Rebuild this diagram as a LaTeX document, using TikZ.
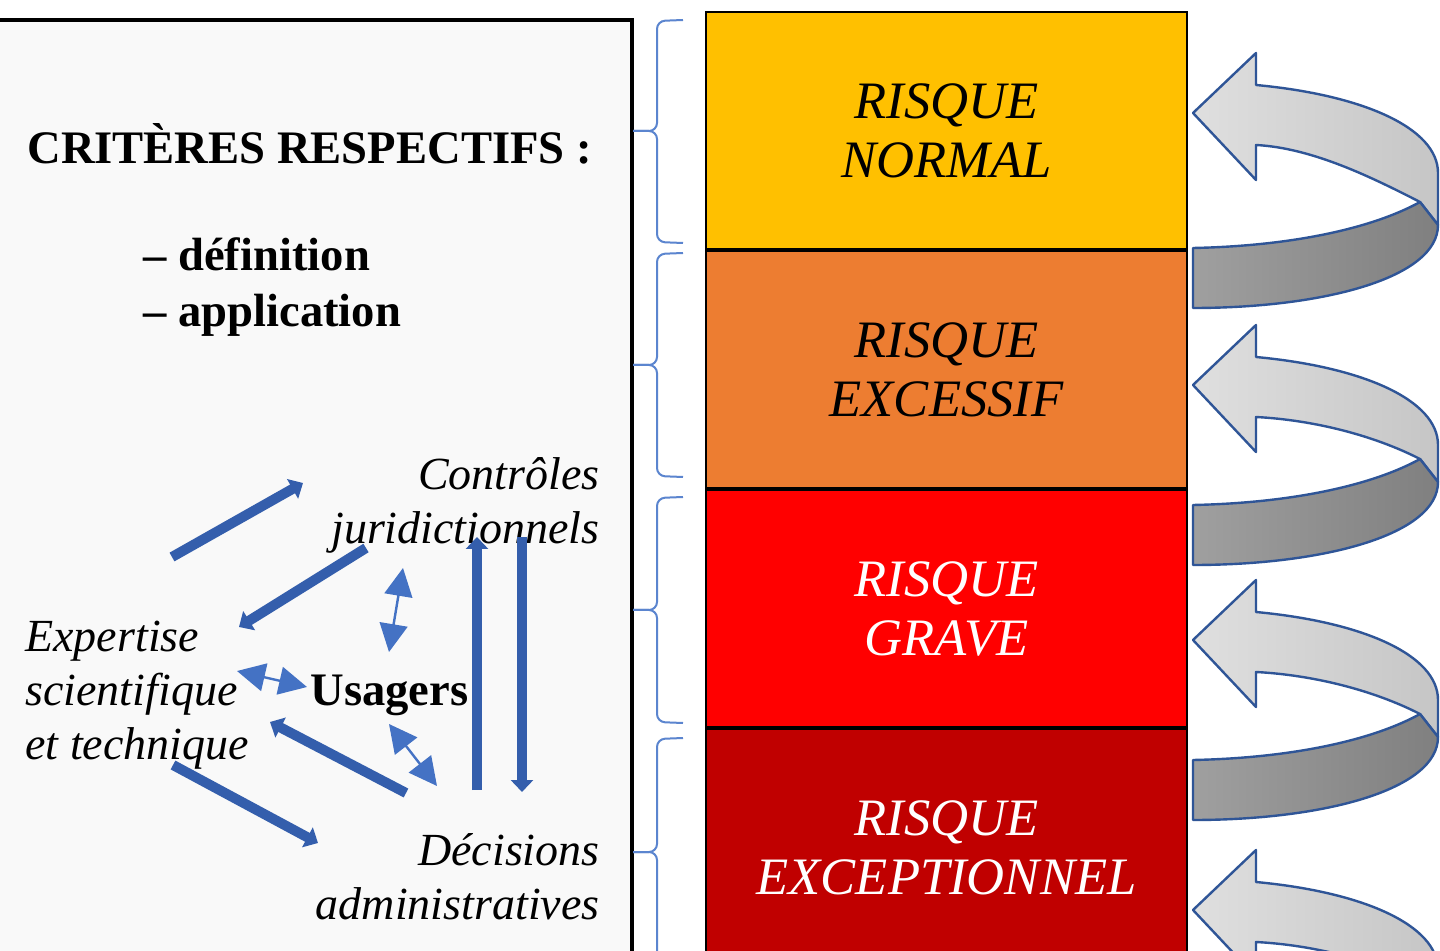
\documentclass[tikz,border=0pt]{standalone}
\usepackage{fontspec}
\setmainfont{Liberation Serif}
\usepackage{tikz}
\usetikzlibrary{arrows.meta,positioning}

\definecolor{riskyellow}{RGB}{255,192,0}
\definecolor{riskorange}{RGB}{237,125,49}
\definecolor{riskred}{RGB}{255,0,0}
\definecolor{riskdark}{RGB}{192,0,0}
\definecolor{arrowblue}{RGB}{52,94,172}
\definecolor{lightblue}{RGB}{68,114,196}
\definecolor{braceblue}{RGB}{91,133,207}
\definecolor{outlineblue}{RGB}{47,85,151}
\definecolor{panelgray}{RGB}{249,249,249}

\tikzset{
  riskbox/.style={draw=black, line width=1pt, minimum width=240.5pt, minimum height=118.5pt,
    inner sep=0pt, align=center, font=\fontsize{26.3}{29.5}\selectfont\itshape},
  txt/.style={inner sep=0pt, font=\fontsize{23}{27}\selectfont\itshape},
  headtxt/.style={inner sep=0pt, font=\fontsize{23.3}{28}\selectfont\bfseries},
  bracket/.style={draw=braceblue, line width=1pt, rounded corners=4pt},
  thickarrow/.style={draw=arrowblue, line width=5pt, -{Triangle[length=6pt,width=11pt]}},
  thinarrow/.style={draw=lightblue, line width=1.2pt,
    {Triangle[length=14pt,width=14pt]}-{Triangle[length=14pt,width=14pt]}},
  uturn/.style={draw=outlineblue, line width=1.2pt, line join=round}
}

\begin{document}
\begin{tikzpicture}[x=0.5pt,y=0.5pt,yscale=-1,xscale=1]
\useasboundingbox (0,0) rectangle (1440,951);
\fill[white] (0,0) rectangle (1440,951);

%Shape: Rectangle (left panel)
\draw[fill=panelgray, line width=2pt] (-10,20) rectangle (632,975);

% Text Node
\node[headtxt, anchor=base west] (crit) at (27,164) {CRITÈRES RESPECTIFS :};
% Text Node
\node[headtxt, anchor=west, align=left] (critlist) at (143,287) {– définition\\– application};
% Text Node
\node[txt, anchor=east, align=right] (ctrl) at (600,505) {Contrôles\\juridictionnels};
% Text Node
\node[txt, anchor=west, align=left] (expert) at (25,695) {Expertise\\scientifique\\et technique};
% Text Node
\node[headtxt, anchor=base west] (usagers) at (310,705) {Usagers};
% Text Node
\node[txt, anchor=east, align=right] (decis) at (600,877) {Décisions\\administratives};

% arrow ends
\coordinate (ex1) at (172,557);
\coordinate (ct1) at (303,483);
\coordinate (ct2) at (366,548);
\coordinate (ex2) at (239,627);
\coordinate (ct3) at (403,568);
\coordinate (us1) at (389,652);
\coordinate (ex3) at (237,671);
\coordinate (us2) at (307,687);
\coordinate (de1) at (406,793);
\coordinate (ex4) at (270,722);
\coordinate (us3) at (389,724);
\coordinate (de2) at (437,786);
\coordinate (ex5) at (173,765);
\coordinate (de3) at (318,843);
\coordinate (de4) at (477,790);
\coordinate (ct4) at (477,537);
\coordinate (ct5) at (522,537);
\coordinate (de5) at (522,792);

%Straight Lines
\draw[thickarrow] (ex1) -- (ct1);
\draw[thickarrow] (ct2) -- (ex2);
\draw[thickarrow] (de1) -- (ex4);
\draw[thickarrow] (ex5) -- (de3);
\draw[thickarrow] (de4) -- (ct4);
\draw[thickarrow] (ct5) -- (de5);
\draw[thinarrow] (ct3) -- (us1);
\draw[thinarrow] (ex3) -- (us2);
\draw[thinarrow] (us3) -- (de2);

%Shape: Rectangles (risk levels)
\node[riskbox, fill=riskyellow] (normal) at (946.5,130.5) {RISQUE\\NORMAL};
\node[riskbox, fill=riskorange, below=0pt of normal] (excessif) {RISQUE\\EXCESSIF};
\node[riskbox, fill=riskred, text=white, below=0pt of excessif] (grave) {RISQUE\\GRAVE};
\node[riskbox, fill=riskdark, text=white, below=0pt of grave] (exceptionnel) {RISQUE\\EXCEPTIONNEL};

%Braces
\foreach \a/\m/\b in {20/131/243, 253/365/477, 497/610/723, 738/852/976}{
  \draw[bracket] (683,\a) -- (657,\a+1) -- (657,\m) -- (633,\m);
  \draw[bracket] (633,\m) -- (657,\m) -- (657,\b-1) -- (683,\b);
}

%Shape: U-turn arrows
\foreach \ty/\e in {113/15,385/0,640/0,910/0}{
  \begin{scope}[shift={(1193,\ty)}]
    \draw[uturn, left color=gray!25, right color=gray!45] (0,0) -- (63,-60) -- (63,-28)
      .. controls (170,-18) and (245,15) .. (245,60) -- (245,97+\e) -- (227,74+\e)
      .. controls (180,50+\e) and (120,35) .. (63,32) -- (63,67) -- cycle;
    \draw[uturn, left color=gray!75, right color=gray] (0,120+\e)
      .. controls (100,118+\e) and (180,100+\e) .. (227,74+\e) -- (245,97+\e)
      .. controls (245,150+\e) and (130,180+\e) .. (0,180+\e) -- cycle;
  \end{scope}
}

\end{tikzpicture}
\end{document}
